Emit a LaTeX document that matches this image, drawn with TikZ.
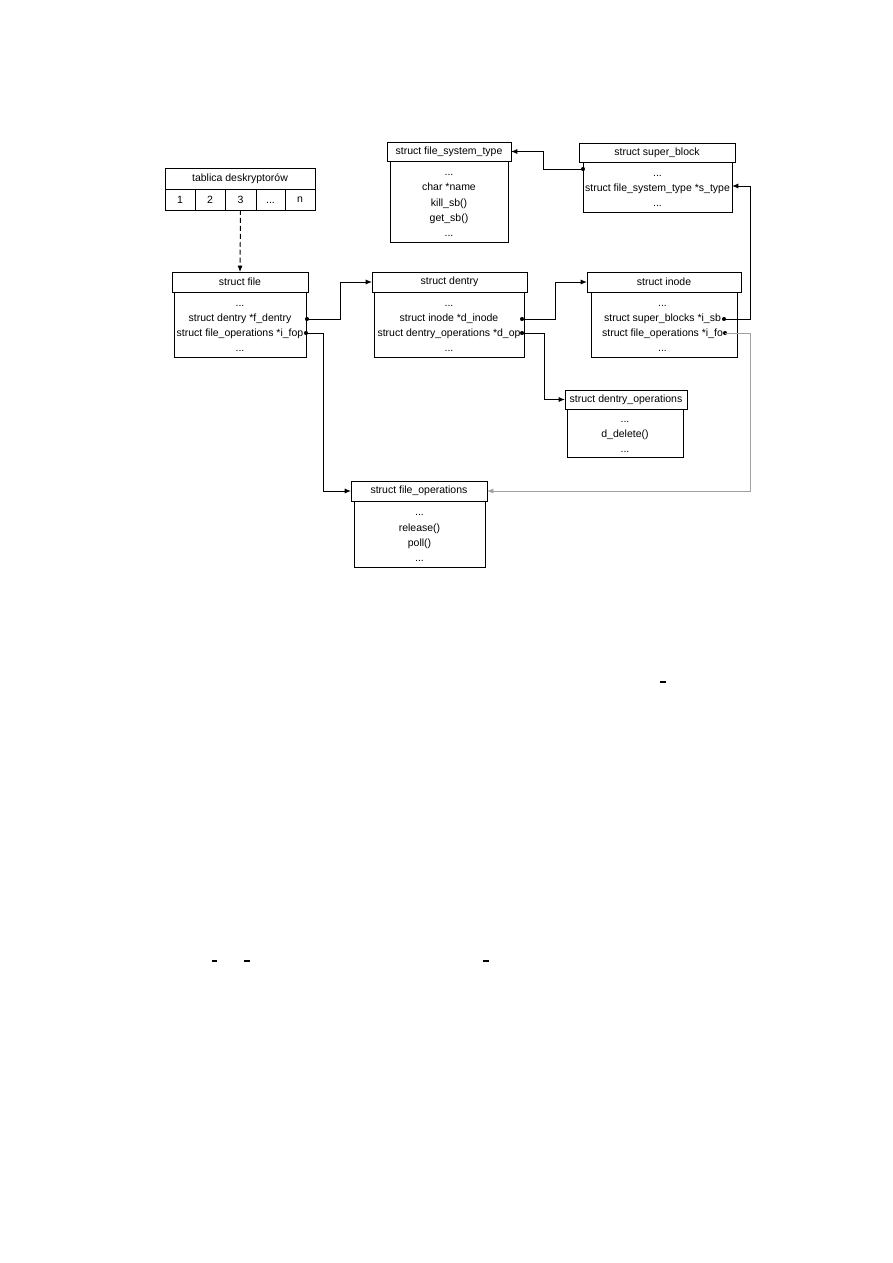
\documentclass[tikz,border=0pt]{standalone}
\usepackage{fontspec}
\setmainfont{Liberation Sans}
\usetikzlibrary{arrows.meta}
\definecolor{lgray}{RGB}{160,160,160}
\begin{document}
\begin{tikzpicture}[x=0.66667pt,y=-0.66667pt,
  sz/.style 2 args={minimum width={#1*0.66667pt},minimum height={#2*0.66667pt}},
  box/.style={draw,line width=0.6pt,inner sep=0pt,outer sep=0pt,align=center,font=\fontsize{7}{10.1}\selectfont},
  bodytxt/.style={inner sep=0pt,align=center,font=\fontsize{7}{10.1}\selectfont,yshift=-2.7pt},
  dotn/.style={circle,fill,inner sep=0pt,outer sep=0pt,minimum size=2.7pt},
  conn/.style={line width=0.65pt,-{Latex[length=4.2pt,width=3.4pt]}},
  straymark/.style={line width=0.9pt}]
\useasboundingbox (0,0) rectangle (893,1263);

% descriptor table
\node[box,sz={150}{21}] (tabh) at (240,178.5) {tablica deskryptorów};
\node[box,sz={30}{21}] (c1) at (180,199.5) {1};
\node[box,sz={30}{21}] (c2) at (210,199.5) {2};
\node[box,sz={31}{21}] (c3) at (240.5,199.5) {3};
\node[box,sz={29}{21}] (c4) at (270.5,199.5) {\vphantom{1}...};
\node[box,sz={30}{21}] (c5) at (300,199.5) {n};

% struct file
\node[box,sz={136}{20}] (fileh) at (240,282) {struct file};
\node[box,sz={132}{65}] (fileb) at (240,324.5) {};
\node[bodytxt] (filet) at (fileb.center) {...\\struct dentry *f\_dentry\\struct file\_operations *i\_fop\\...};

% struct dentry
\node[box,sz={155}{20}] (denh) at (449.5,282) {struct dentry};
\node[box,sz={150}{65}] (denb) at (449,324.5) {};
\node[bodytxt] (dent) at (denb.center) {...\\struct inode *d\_inode\\struct dentry\_operations *d\_op\\...};

% struct inode
\node[box,sz={154}{20}] (inoh) at (664,282) {struct inode};
\node[box,sz={146}{65}] (inob) at (664,324.5) {};
\node[bodytxt] (inot) at ([xshift=-1pt]inob.center) {...\\struct super\_blocks *i\_sb\\struct file\_operations *i\_fo\\...};

% struct file_system_type
\node[box,sz={124}{19}] (fsth) at (449,151.5) {struct file\_system\_type};
\node[box,sz={118}{81}] (fstb) at (449,201.5) {};
\node[bodytxt] (fstt) at (fstb.center) {...\\char *name\\kill\_sb()\\get\_sb()\\...};

% struct super_block
\node[box,sz={156}{19}] (sbh) at (657,152.5) {struct super\_block};
\node[box,sz={149}{50}] (sbb) at (657.5,187) {};
\node[bodytxt] (sbt) at (sbb.center) {...\\struct file\_system\_type *s\_type\\...};

% struct dentry_operations
\node[box,sz={122}{19}] (dopsh) at (626,399.5) {struct dentry\_operations};
\node[box,sz={116}{48}] (dopsb) at (625,433) {};
\node[bodytxt] (dopst) at (dopsb.center) {...\\d\_delete()\\...};

% struct file_operations
\node[box,sz={136}{20}] (fopsh) at (419,491) {struct file\_operations};
\node[box,sz={131}{66}] (fopsb) at (419.5,534) {};
\node[bodytxt] (fopst) at (fopsb.center) {...\\release()\\poll()\\...};

% pointer dots
\node[dotn] (fdentry) at (307,319) {};
\node[dotn] (ifop) at (306,333) {};
\node[dotn] (dinode) at (522,319) {};
\node[dotn] (dop) at (522,333) {};
\node[dotn] (isb) at (724,319) {};
\node[dotn] (ifo) at (725,333) {};
\node[dotn] (sbd) at (583,169) {};
\coordinate (stype) at (732,186);

% connectors
\draw[conn,dash pattern=on 3.3pt off 2pt] (c3.south) -- (fileh.north);
\draw[conn] (fdentry.center) -- (340,319) |- (denh.west);
\draw[conn] (ifop.center) -- (323,333) |- (fopsh.west);
\draw[conn] (dinode.center) -- (555,319) |- (inoh.west);
\draw[conn] (dop.center) -- (544,333) |- (dopsh.west);
\draw[conn] (isb.center) -- (750,319) |- (stype);
\draw[conn,lgray] (ifo.center) -- (750,333) |- (fopsh.east);
\draw[conn] (sbd.center) -- (543,169) |- (fsth.east);

% stray marks
\draw[straymark] (660,682) -- (666,682);
\draw[straymark] (212,961) -- (217,961);
\draw[straymark] (244,961) -- (250,961);
\draw[straymark] (483,961) -- (489,961);
\end{tikzpicture}
\end{document}
